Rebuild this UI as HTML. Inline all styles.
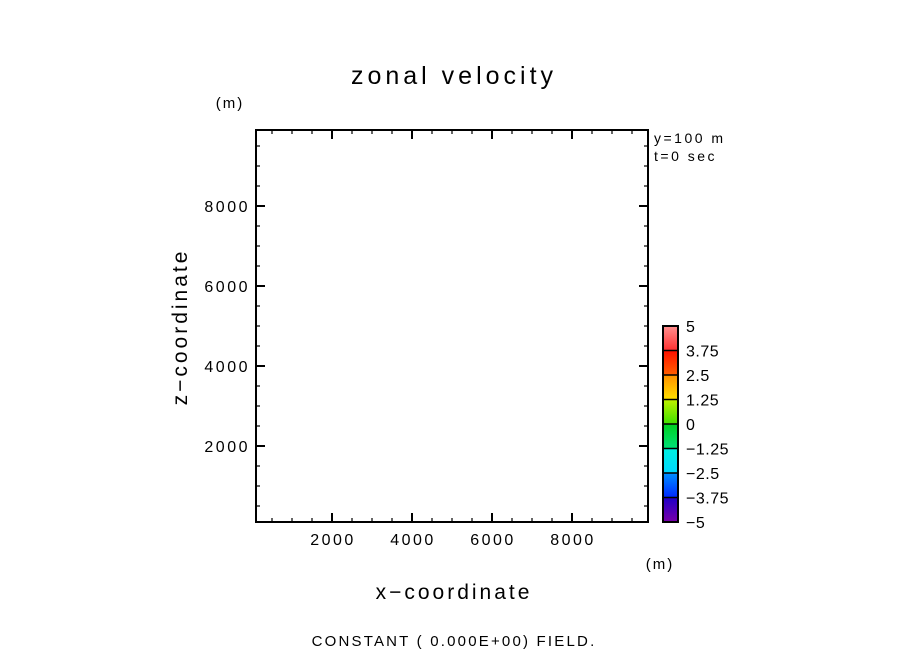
<!DOCTYPE html>
<html><head><meta charset="utf-8"><style>
html,body{margin:0;padding:0;background:#fff;}
svg{display:block;font-family:"Liberation Sans",sans-serif;}
</style></head><body>
<svg id="c" width="904" height="654" viewBox="0 0 904 654">
<text x="454" y="84" font-size="25" letter-spacing="4" text-anchor="middle">zonal velocity</text>
<text x="230" y="108" font-size="15" letter-spacing="2" text-anchor="middle">(m)</text>
<text x="660" y="569" font-size="15" letter-spacing="2" text-anchor="middle">(m)</text>
<text x="454" y="599" font-size="21" letter-spacing="3" text-anchor="middle">x−coordinate</text>
<text transform="translate(187,327) rotate(-90)" font-size="21" letter-spacing="3" text-anchor="middle">z−coordinate</text>
<text x="654" y="143" font-size="14" letter-spacing="2.5">y=100 m</text>
<text x="654" y="161" font-size="14" letter-spacing="2.5">t=0 sec</text>
<text x="454" y="646" font-size="15" letter-spacing="2.2" text-anchor="middle">CONSTANT ( 0.000E+00) FIELD.</text>
<g id="ticks"></g>
<g id="cbar"></g>
<rect x="256" y="130" width="392" height="392" fill="none" stroke="#000" stroke-width="2"/>
</svg>
<script>
const xTicks=[2000,4000,6000,8000];
const yTicks=[2000,4000,6000,8000];
const xDomain=[100,9900];
const yDomain=[100,9900];
const cbLevels=[-5,-3.75,-2.5,-1.25,0,1.25,2.5,3.75,5];
const cbLabels=["−5","−3.75","−2.5","−1.25","0","1.25","2.5","3.75","5"];
const cbColors=[["#7a00a8","#1e00c8"],["#0028ff","#0090ff"],["#00d8ff","#00f0e0"],["#00e078","#00d020"],["#40e000","#c0f000"],["#ffe000","#ff9000"],["#ff6000","#ff1000"],["#ff3030","#ff9090"]];
const NS="http://www.w3.org/2000/svg";
const L=256,R=648,T=130,B=522;
const sx=v=>L+(v-xDomain[0])/(xDomain[1]-xDomain[0])*(R-L);
const sy=v=>B-(v-yDomain[0])/(yDomain[1]-yDomain[0])*(B-T);
const tg=document.getElementById('ticks');
function line(x1,y1,x2,y2,w){const l=document.createElementNS(NS,'line');l.setAttribute('x1',x1);l.setAttribute('y1',y1);l.setAttribute('x2',x2);l.setAttribute('y2',y2);l.setAttribute('stroke','#000');l.setAttribute('stroke-width',w);


tg.appendChild(l);}
function txt(x,y,s,anchor,size,name){const t=document.createElementNS(NS,'text');t.setAttribute('x',x);t.setAttribute('y',y);t.setAttribute('text-anchor',anchor);t.setAttribute('font-size',size);t.setAttribute('letter-spacing','2.5');t.textContent=s;


return t;}
for(let v=500;v<10000;v+=500){
 const major=v%2000===0, len=major?9:4, w=major?2:1.2;
 const x=sx(v),y=sy(v);
 line(x,B,x,B-len,w);line(x,T,x,T+len,w);
 line(L,y,L+len,y,w);line(R,y,R-len,y,w);
}
xTicks.forEach(v=>tg.appendChild(txt(sx(v)+1,B+23,String(v),'middle',16,'x-tick-label')));
yTicks.forEach(v=>tg.appendChild(txt(L-6,sy(v)+6,String(v),'end',16,'y-tick-label')));
const cg=document.getElementById('cbar');
const cx=663,cw=15,cTop=326,cBot=522;
const cs=v=>cBot-(v-cbLevels[0])/(cbLevels[cbLevels.length-1]-cbLevels[0])*(cBot-cTop);
const defs=document.createElementNS(NS,'defs');cg.appendChild(defs);
cbColors.forEach((c,i)=>{
 const g=document.createElementNS(NS,'linearGradient');g.id='g'+i;g.setAttribute('x1',0);g.setAttribute('y1',1);g.setAttribute('x2',0);g.setAttribute('y2',0);
 [[0,c[0]],[1,c[1]]].forEach(([o,col])=>{const s=document.createElementNS(NS,'stop');s.setAttribute('offset',o);s.setAttribute('stop-color',col);g.appendChild(s);});
 defs.appendChild(g);
 const y1=cs(cbLevels[i+1]),y0=cs(cbLevels[i]);
 const r=document.createElementNS(NS,'rect');r.setAttribute('x',cx);r.setAttribute('y',y1);r.setAttribute('width',cw);r.setAttribute('height',y0-y1);r.setAttribute('fill','url(#g'+i+')');
 
 
 cg.appendChild(r);
});
cbLevels.forEach((v,i)=>{
 const y=cs(v);
 if(i>0&&i<cbLevels.length-1){const l=document.createElementNS(NS,'line');l.setAttribute('x1',cx);l.setAttribute('x2',cx+cw);l.setAttribute('y1',y);l.setAttribute('y2',y);l.setAttribute('stroke','#000');l.setAttribute('stroke-width',1.5);
 
 
 cg.appendChild(l);}
 const t=txt(686,y+6,cbLabels[i],'start',16,'colorbar-label');
 t.setAttribute('letter-spacing','0.5');
 cg.appendChild(t);
});
const fr=document.createElementNS(NS,'rect');fr.setAttribute('x',cx);fr.setAttribute('y',cTop);fr.setAttribute('width',cw);fr.setAttribute('height',cBot-cTop);fr.setAttribute('fill','none');fr.setAttribute('stroke','#000');fr.setAttribute('stroke-width',2);


cg.appendChild(fr);
</script>
</body></html>
